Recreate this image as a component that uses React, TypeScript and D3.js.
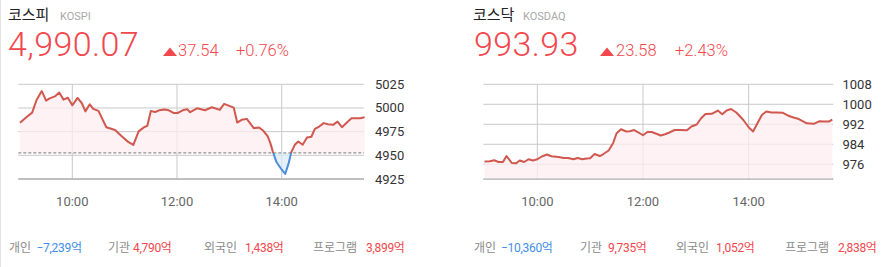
import React from 'react';
import * as d3 from 'd3';

// ---------- DATA ----------
const kospiTimes = ["09:00","09:08","09:14","09:19","09:25","09:30","09:34","09:40","09:45","09:50","09:55","10:00","10:06","10:11","10:15","10:20","10:24","10:30","10:39","10:49","10:57","11:04","11:10","11:16","11:22","11:26","11:30","11:35","11:40","11:45","11:50","11:56","12:01","12:07","12:12","12:15","12:23","12:32","12:40","12:49","12:54","13:05","13:09","13:14","13:20","13:28","13:34","13:39","13:44","13:47","13:50","13:54","14:00","14:04","14:08","14:11","14:15","14:19","14:24","14:29","14:34","14:38","14:43","14:48","14:53","14:59","15:04","15:09","15:15","15:20","15:30","15:35"];
const kospiValues = [4984.4,4990.8,4995.1,5008.4,5017.8,5007.8,5010.2,5012.2,5016.4,5008.8,5010.8,5002.8,5010.6,5005.0,4996.4,5003.9,4999.0,4997.0,4979.6,4976.8,4969.8,4964.2,4961.0,4975.3,4979.5,4981.2,4996.7,4995.8,4997.7,4998.5,4997.8,4994.7,4994.8,4997.8,4998.6,4995.5,4999.7,4997.6,5000.8,4998.0,5004.3,5000.4,4984.6,4987.5,4988.5,4978.7,4979.4,4975.9,4969.9,4962.9,4953.4,4942.9,4934.8,4930.3,4941.8,4953.4,4961.1,4964.6,4961.1,4968.9,4969.6,4978.0,4980.4,4984.0,4982.9,4982.2,4985.7,4979.7,4985.0,4989.2,4989.2,4990.1];

const kosdaqTimes = ["09:00","09:06","09:11","09:16","09:21","09:25","09:31","09:36","09:40","09:45","09:50","09:55","10:00","10:05","10:11","10:16","10:24","10:30","10:35","10:41","10:46","10:51","10:56","11:00","11:05","11:11","11:15","11:21","11:26","11:30","11:35","11:41","11:45","11:50","11:55","12:00","12:05","12:10","12:16","12:20","12:25","12:30","12:36","12:42","12:50","12:55","13:01","13:06","13:11","13:18","13:25","13:30","13:35","13:40","13:46","13:54","14:00","14:05","14:10","14:15","14:20","14:26","14:32","14:39","14:46","14:51","14:57","15:06","15:14","15:20","15:25","15:31","15:35"];
const kosdaqValues = [977.1,977.2,977.6,976.9,976.9,979.3,976.5,976.4,977.5,976.9,978.0,977.5,978.0,979.1,979.9,979.2,978.9,978.5,978.5,978.0,978.5,978.0,978.3,978.4,980.1,979.3,980.1,981.5,984.4,988.4,990.0,989.1,989.2,989.7,988.7,987.6,988.9,988.9,988.1,987.5,988.0,988.7,989.7,989.7,989.6,991.1,991.9,994.4,996.1,996.2,997.5,996.0,997.5,998.1,996.7,993.7,990.8,989.1,992.4,995.7,997.1,996.7,996.7,996.6,995.3,994.7,994.1,992.4,992.2,993.2,993.1,993.1,993.9];

const kospiTicks = [4925, 4950, 4975, 5000, 5025];
const kosdaqTicks = [976, 984, 992, 1000, 1008];
const timeTicks = ["10:00", "12:00", "14:00"];

const kospiPrevClose = 4952.53;
const kosdaqPrevClose = 970.35;

const kospiHeader = { name: "코스피", code: "KOSPI", price: "4,990.07", change: "37.54", rate: "+0.76%" };
const kosdaqHeader = { name: "코스닥", code: "KOSDAQ", price: "993.93", change: "23.58", rate: "+2.43%" };

const kospiFlowLabels = ["개인", "기관", "외국인", "프로그램"];
const kospiFlowValues = [-7239, 4790, 1438, 3899];
const kosdaqFlowLabels = ["개인", "기관", "외국인", "프로그램"];
const kosdaqFlowValues = [-10360, 9735, 1052, 2838];

// ---------- STYLE ----------
const RED_TEXT = "#f2474d";
const BLUE_TEXT = "#3f8ee8";
const LINE_RED = "#d0584f";
const LINE_BLUE = "#4a8fd8";
const NUM_FONT = "Roboto, 'Noto Sans CJK KR', sans-serif";
const KR_FONT = "'Noto Sans CJK KR', 'Noto Sans', sans-serif";

const toMin = (s: string) => { const [h, m] = s.split(":").map(Number); return h * 60 + m; };
const fmt = d3.format(",");

type PanelProps = {
  id: string;
  times: string[]; values: number[]; ticks: number[]; prev: number;
  yDomain: [number, number];
  xRange: [number, number]; gridX: [number, number];
  labelX: number;
  header: typeof kospiHeader;
  hx: { name: number; code: number; price: number; tri: number; change: number; rate: number };
  flowLabels: string[]; flowValues: number[]; flowX: { label: number; value: number }[];
};

const TOP = 84.3, BOTTOM = 179;

function Panel(p: PanelProps) {
  const x = d3.scaleLinear().domain([toMin("09:00"), toMin("15:35")]).range(p.xRange);
  const y = d3.scaleLinear().domain(p.yDomain).range([BOTTOM, TOP]);
  const data = p.times.map((t, i) => ({ t: toMin(t), v: p.values[i] }));
  const yBase = Math.min(y(p.prev), BOTTOM);
  const line = d3.line<{ t: number; v: number }>().x(d => x(d.t)).y(d => y(d.v)).curve(d3.curveLinear);
  const area = d3.area<{ t: number; v: number }>().x(d => x(d.t)).y0(yBase).y1(d => y(d.v));
  const dLine = line(data) || "";
  const dArea = area(data) || "";
  const tri = p.hx.tri;
  const baseAtBottom = BOTTOM - yBase < 1.5;
  return (
    <g>
      <defs>
        <clipPath id={p.id + "-above"}><rect x={0} y={0} width={886} height={yBase} /></clipPath>
        <clipPath id={p.id + "-below"}><rect x={0} y={yBase} width={886} height={267 - yBase} /></clipPath>
      </defs>
      {/* header */}
      <text x={p.hx.name} y={20} fontFamily={KR_FONT} fontSize={15} fill="#222">{p.header.name}</text>
      <text x={p.hx.code} y={20} fontFamily={NUM_FONT} fontSize={11} fill="#a8a8a8">{p.header.code}</text>
      <text x={p.hx.price} y={56} fontFamily={NUM_FONT} fontWeight={300} fontSize={34} letterSpacing={0.4} fill={RED_TEXT}>{p.header.price}</text>
      <path d={`M${tri},56 L${tri + 7},47.5 L${tri + 14},56 Z`} fill={RED_TEXT} />
      <text x={p.hx.change} y={56} fontFamily={NUM_FONT} fontWeight={300} fontSize={16.5} fill={RED_TEXT}>{p.header.change}</text>
      <text x={p.hx.rate} y={56} fontFamily={NUM_FONT} fontWeight={300} fontSize={16.5} fill={RED_TEXT}>{p.header.rate}</text>

      {/* grid */}
      {p.ticks.map(t => (
        <line key={"h" + t} x1={p.gridX[0]} x2={p.gridX[1]} y1={y(t)} y2={y(t)} stroke="#c9c9c9" strokeWidth={1} />
      ))}
      {timeTicks.map(t => (
        <line key={"v" + t} x1={x(toMin(t))} x2={x(toMin(t))} y1={TOP} y2={BOTTOM} stroke="#c9c9c9" strokeWidth={1} />
      ))}
      <line x1={p.gridX[0]} x2={p.gridX[1]} y1={BOTTOM} y2={BOTTOM} stroke={baseAtBottom ? "#888" : "#9a9a9a"} strokeWidth={1} />

      {/* fills */}
      <path d={dArea} fill="#fdeef0" fillOpacity={0.75} clipPath={`url(#${p.id}-above)`} />
      <path d={dArea} fill="#deebf9" fillOpacity={0.75} clipPath={`url(#${p.id}-below)`} />
      {!baseAtBottom && (
        <line x1={p.gridX[0]} x2={p.gridX[1]} y1={yBase} y2={yBase} stroke="#777" strokeWidth={1} strokeDasharray="3,2" />
      )}
      <path d={dLine} fill="none" stroke={LINE_RED} strokeWidth={2} strokeLinejoin="round" clipPath={`url(#${p.id}-above)`} />
      <path d={dLine} fill="none" stroke={LINE_BLUE} strokeWidth={2} strokeLinejoin="round" clipPath={`url(#${p.id}-below)`} />

      {/* y labels */}
      {p.ticks.map(t => (
        <text key={"yl" + t} x={p.labelX} y={y(t)} dominantBaseline="central" fontFamily={NUM_FONT} fontSize={13} fill="#333">{t}</text>
      ))}
      {/* x labels */}
      {timeTicks.map(t => (
        <text key={"xl" + t} x={x(toMin(t))} y={206} textAnchor="middle" fontFamily={NUM_FONT} fontSize={13} fill="#666">{t}</text>
      ))}

      {/* flows */}
      {p.flowLabels.map((l, i) => (
        <g key={"f" + l}>
          <text x={p.flowX[i].label} y={252} fontFamily={KR_FONT} fontSize={12} fill="#8c8c8c">{l}</text>
          <text x={p.flowX[i].value} y={252} fontFamily={NUM_FONT} fontSize={12} letterSpacing={-0.3} fill={p.flowValues[i] < 0 ? BLUE_TEXT : RED_TEXT}>
            {fmt(p.flowValues[i])}<tspan fontFamily={KR_FONT}>억</tspan>
          </text>
        </g>
      ))}
    </g>
  );
}

export default function App() {
  return (
    <svg width={886} height={267} style={{ position: "absolute", left: 0, top: 0, background: "#fff" }}>
      <rect x={0} y={0} width={886} height={267} fill="#fff" />
      <line x1={0.5} x2={0.5} y1={0} y2={267} stroke="#e3e3e3" strokeWidth={1} />
      <Panel
        id="kospi" times={kospiTimes} values={kospiValues} ticks={kospiTicks} prev={kospiPrevClose}
        yDomain={[4925, 5025]} xRange={[19.95, 364.6]} gridX={[18.3, 364]} labelX={375}
        header={kospiHeader}
        hx={{ name: 8, code: 60, price: 8, tri: 163, change: 178, rate: 236 }}
        flowLabels={kospiFlowLabels} flowValues={kospiFlowValues}
        flowX={[{ label: 9, value: 36.5 }, { label: 108, value: 133 }, { label: 204, value: 245 }, { label: 313, value: 366 }]}
      />
      <Panel
        id="kosdaq" times={kosdaqTimes} values={kosdaqValues} ticks={kosdaqTicks} prev={kosdaqPrevClose}
        yDomain={[970.1, 1008]} xRange={[484.5, 832.3]} gridX={[483.3, 833.3]} labelX={842.5}
        header={kosdaqHeader}
        hx={{ name: 473, code: 523, price: 474, tri: 600, change: 616, rate: 675 }}
        flowLabels={kosdaqFlowLabels} flowValues={kosdaqFlowValues}
        flowX={[{ label: 474, value: 501 }, { label: 580, value: 608 }, { label: 676, value: 716 }, { label: 785, value: 838 }]}
      />
    </svg>
  );
}
